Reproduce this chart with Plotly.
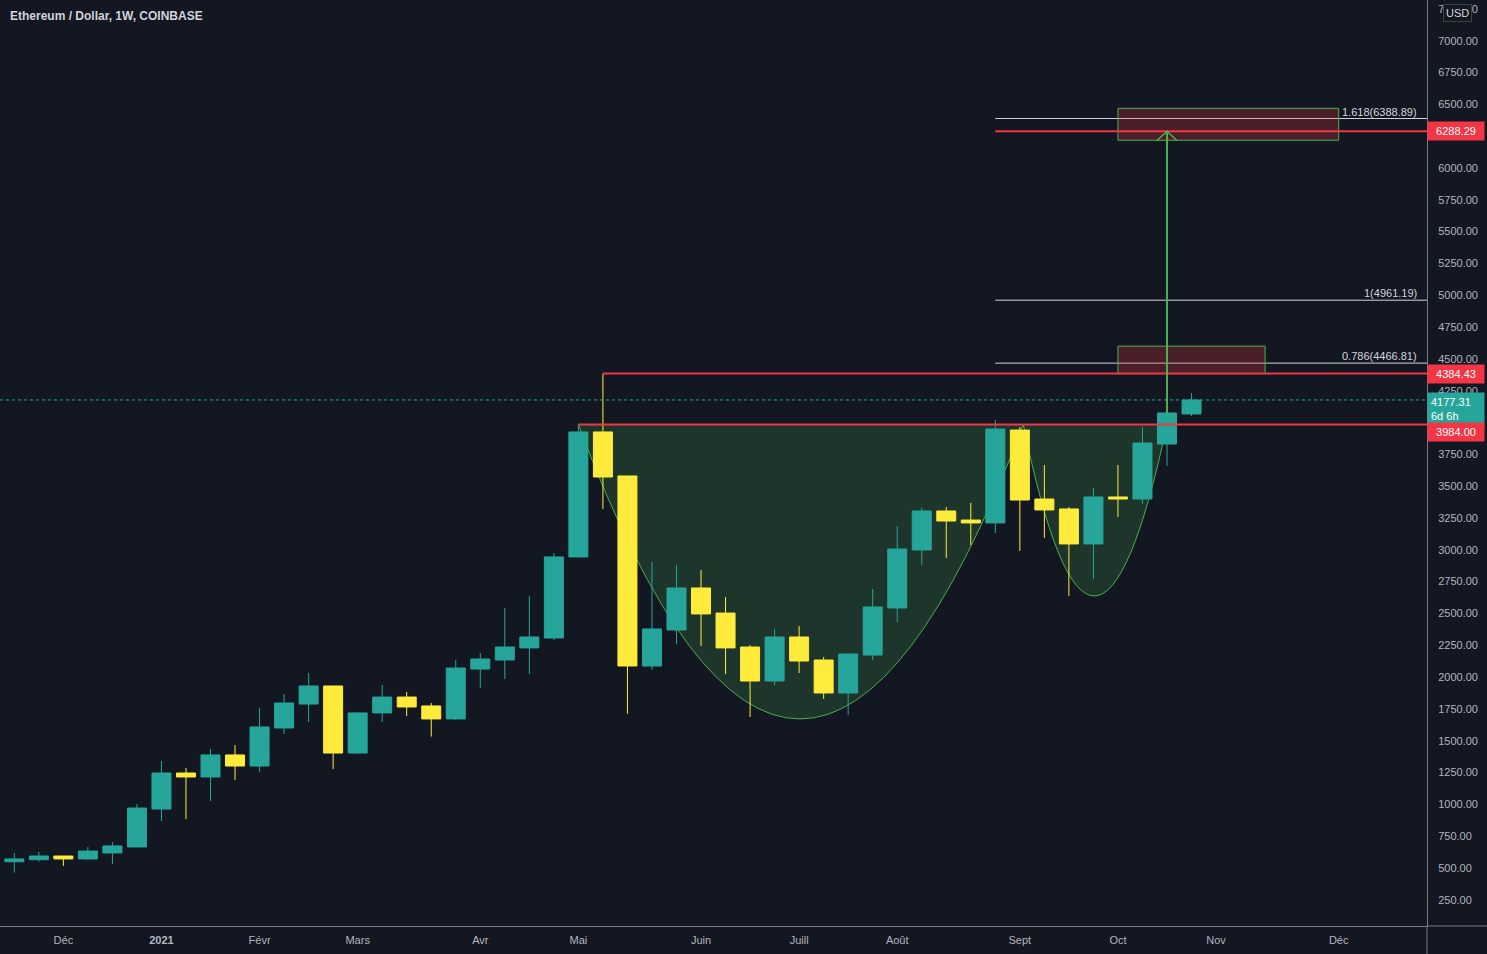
import plotly.graph_objects as go

# ---------------- data ----------------
weeks = [
    "2020-11-23", "2020-11-30", "2020-12-07", "2020-12-14", "2020-12-21", "2020-12-28",
    "2021-01-04", "2021-01-11", "2021-01-18", "2021-01-25", "2021-02-01", "2021-02-08",
    "2021-02-15", "2021-02-22", "2021-03-01", "2021-03-08", "2021-03-15", "2021-03-22",
    "2021-03-29", "2021-04-05", "2021-04-12", "2021-04-19", "2021-04-26", "2021-05-03",
    "2021-05-10", "2021-05-17", "2021-05-24", "2021-05-31", "2021-06-07", "2021-06-14",
    "2021-06-21", "2021-06-28", "2021-07-05", "2021-07-12", "2021-07-19", "2021-07-26",
    "2021-08-02", "2021-08-09", "2021-08-16", "2021-08-23", "2021-08-30", "2021-09-06",
    "2021-09-13", "2021-09-20", "2021-09-27", "2021-10-04", "2021-10-11", "2021-10-18",
    "2021-10-25",
]
open_ = [549, 565, 594, 571, 618, 665, 963, 1246, 1215, 1388, 1301, 1600, 1788, 1930, 1403, 1718,
         1843, 1773, 1671, 2063, 2134, 2229, 2307, 2944, 3926, 3580, 2087, 2370, 2700, 2503, 2236,
         1969, 2315, 2134, 1875, 2173, 2543, 2999, 3305, 3234, 3211, 3941, 3399, 3321, 3046, 3415,
         3399, 3831, 4067]
high = [618, 626, 594, 665, 704, 1003, 1341, 1286, 1435, 1466, 1757, 1867, 2032, 1930, 1726, 1938,
        1883, 1796, 2134, 2189, 2543, 2637, 2975, 3984, 4384, 3580, 2904, 2881, 2841, 2629, 2252,
        2378, 2401, 2158, 2189, 2692, 3187, 3329, 3336, 3368, 4020, 3965, 3666, 3336, 3486, 3666,
        3965, 4375, 4232]
low = [463, 549, 516, 563, 531, 665, 869, 885, 1026, 1191, 1254, 1553, 1647, 1278, 1395, 1647,
       1694, 1532, 1663, 1914, 1985, 2024, 2291, 2936, 3321, 1712, 2056, 2260, 2244, 2024, 1686,
       1938, 2032, 1828, 1702, 2134, 2433, 2881, 2936, 3038, 3132, 2991, 3093, 2637, 2771, 3258,
       3360, 3659, 4051]
close = [571, 594, 571, 633, 673, 971, 1246, 1215, 1388, 1301, 1608, 1796, 1930, 1403, 1718, 1843,
         1765, 1671, 2071, 2142, 2236, 2315, 2944, 3926, 3572, 2087, 2378, 2700, 2496, 2229, 1969,
         2315, 2126, 1875, 2181, 2551, 3006, 3305, 3226, 3211, 3949, 3391, 3313, 3046, 3415, 3399,
         3839, 4075, 4177.31]

month_ticks = ["2020-12-07", "2021-01-04", "2021-02-01", "2021-03-01", "2021-04-05", "2021-05-03",
               "2021-06-07", "2021-07-05", "2021-08-02", "2021-09-06", "2021-10-04", "2021-11-01",
               "2021-12-06"]
month_labels = ["Déc", "<b>2021</b>", "Févr", "Mars", "Avr", "Mai", "Juin", "Juill", "Août",
                "Sept", "Oct", "Nov", "Déc"]

# drawing levels
support_level = 3984.00
ath_level = 4384.43
target_level = 6288.29
last_price = 4177.31
fib_levels = [6388.89, 4961.19, 4466.81]
fib_labels = ["1.618(6388.89)", "1(4961.19)", "0.786(4466.81)"]

# cup & handle anchors (date, price)
cup_start, cup_mid, cup_end = "2021-05-03", "2021-07-05", "2021-09-07"
cup_ctrl_price = -642
handle_mid, handle_end = "2021-09-27", "2021-10-18"
handle_ctrl_price = 1290

x_range = ["2020-11-18 22:00", "2021-12-31 05:00"]
y_range = [44, 7320]

BG = "#131722"
UP = "#26A69A"
DOWN = "#FFEB3B"
RED = "#F23645"
GREEN = "#4CAF50"
TXT = "#D1D4DC"
AX = "#B2B5BE"
FONT = "Liberation Sans"

fig = go.Figure()
fig.add_trace(go.Candlestick(
    x=weeks, open=open_, high=high, low=low, close=close,
    increasing=dict(line=dict(color=UP, width=1), fillcolor=UP),
    decreasing=dict(line=dict(color=DOWN, width=1), fillcolor=DOWN),
    whiskerwidth=0, showlegend=False, hoverinfo="skip",
))

xend = x_range[1]
shapes = []
# cup & handle fill
shapes.append(dict(
    type="path", xref="x", yref="y", layer="below",
    path=(f"M {cup_start},{support_level} Q {cup_mid},{cup_ctrl_price} {cup_end},{support_level} "
          f"Q {handle_mid},{handle_ctrl_price} {handle_end},{support_level} Z"),
    fillcolor="rgba(76,175,80,0.2)", line=dict(color=GREEN, width=1),
))
# current price dotted line
shapes.append(dict(type="line", xref="paper", yref="y", x0=0, x1=1, y0=last_price, y1=last_price,
                   line=dict(color=UP, width=1, dash="dot")))
# fib lines
for lv in fib_levels:
    shapes.append(dict(type="line", xref="x", yref="y", x0="2021-08-30", x1=xend, y0=lv, y1=lv,
                       line=dict(color=TXT, width=1)))
# target boxes
shapes.append(dict(type="rect", xref="x", yref="y", x0="2021-10-04", x1="2021-12-06", y0=6218, y1=6469,
                   fillcolor="rgba(242,54,69,0.25)", line=dict(color=GREEN, width=1)))
shapes.append(dict(type="rect", xref="x", yref="y", x0="2021-10-04", x1="2021-11-15", y0=ath_level, y1=4600,
                   fillcolor="rgba(242,54,69,0.25)", line=dict(color=GREEN, width=1)))
# red horizontal levels
for x0, lv in [("2021-05-03", support_level), ("2021-05-10", ath_level), ("2021-08-30", target_level)]:
    shapes.append(dict(type="line", xref="x", yref="y", x0=x0, x1=xend, y0=lv, y1=lv,
                       line=dict(color=RED, width=2)))
# measured-move arrow
shapes.append(dict(type="line", xref="x", yref="y", x0="2021-10-18", x1="2021-10-18",
                   y0=close[-2], y1=target_level, line=dict(color=GREEN, width=2)))
shapes.append(dict(type="path", xref="x", yref="y",
                   path=f"M 2021-10-15_04:00,{target_level-72} L 2021-10-18,{target_level} L 2021-10-20_20:00,{target_level-72}",
                   line=dict(color=GREEN, width=1.5)))
# axis frame extensions
shapes.append(dict(type="line", xref="paper", yref="paper", x0=1, x1=1, y0=-28/926, y1=0,
                   line=dict(color="#787B86", width=1)))
shapes.append(dict(type="line", xref="paper", yref="paper", x0=1, x1=1487/1427, y0=0, y1=0,
                   line=dict(color="#787B86", width=1)))

annotations = []
annotations.append(dict(xref="paper", yref="paper", x=8/1427, y=1-16/926, xanchor="left", yanchor="middle",
                        text="<b>Ethereum / Dollar, 1W, COINBASE</b>", showarrow=False,
                        font=dict(family=FONT, size=12, color=TXT)))
for lv, lab in zip(fib_levels, fib_labels):
    annotations.append(dict(xref="paper", yref="y", x=1419/1427, y=lv, xanchor="right", yanchor="bottom",
                            text=lab, showarrow=False, yshift=-1,
                            font=dict(family=FONT, size=11, color=TXT)))
annotations.append(dict(xref="paper", yref="y", x=1, y=last_price, xanchor="left", yanchor="top",
                        yshift=8, text=f"{last_price:.2f}<br>6d 6h", showarrow=False, bgcolor=UP,
                        borderpad=3, width=50, align="left",
                        font=dict(family=FONT, size=11, color="#FFFFFF")))
for lv, txt, col, ys in [(target_level, f"{target_level:.2f}", RED, 0),
                         (ath_level, f"{ath_level:.2f}", RED, 0),
                         (support_level, f"{support_level:.2f}", RED, -7)]:
    annotations.append(dict(xref="paper", yref="y", x=1, y=lv, xanchor="left", yanchor="middle",
                            text=txt, showarrow=False, bgcolor=col, borderpad=3, width=50, align="center",
                            yshift=ys, font=dict(family=FONT, size=11, color="#FFFFFF")))
annotations.append(dict(xref="paper", yref="paper", x=1443/1427, y=1-4/926, xanchor="left", yanchor="top",
                        text="USD", showarrow=False, bgcolor=BG, bordercolor="#34463b", borderwidth=1,
                        borderpad=2, font=dict(family=FONT, size=11, color=TXT)))

fig.update_layout(
    width=1487, height=954,
    margin=dict(l=0, r=60, t=0, b=28),
    paper_bgcolor=BG, plot_bgcolor=BG,
    boxgap=0.225, boxgroupgap=0,
    showlegend=False,
    shapes=shapes, annotations=annotations,
    font=dict(family=FONT, size=11, color=AX),
    xaxis=dict(type="date", range=x_range, rangeslider=dict(visible=False),
               tickmode="array", tickvals=month_ticks, ticktext=month_labels,
               showgrid=False, zeroline=False, showline=True, linecolor="#787B86", linewidth=1,
               ticks="outside", ticklen=4, tickcolor="rgba(0,0,0,0)",
               tickfont=dict(family=FONT, size=11, color=AX), fixedrange=True),
    yaxis=dict(side="right", range=y_range, dtick=250, tick0=0, tickformat=".2f",
               showgrid=False, zeroline=False, showline=True, linecolor="#787B86", linewidth=1,
               ticks="outside", ticklen=8, tickcolor="rgba(0,0,0,0)",
               tickfont=dict(family=FONT, size=11, color=AX), fixedrange=True),
)

fig.write_html("out.html", config={"displayModeBar": False},
               post_script="document.body.style.margin='0';document.body.style.background='#131722';")
